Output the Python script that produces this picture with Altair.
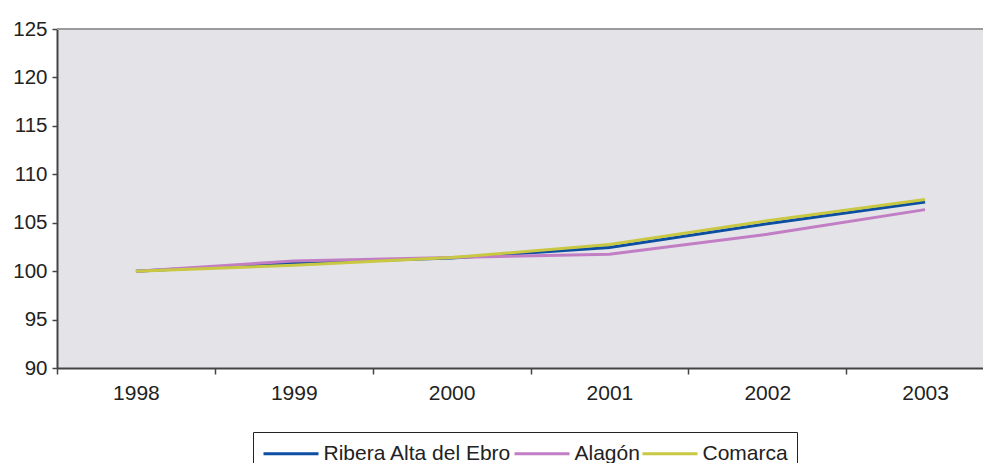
import altair as alt
import pandas as pd

years = ["1998", "1999", "2000", "2001", "2002", "2003"]
ribera = [100.0, 100.85, 101.35, 102.45, 104.9, 107.15]
alagon = [100.0, 101.05, 101.4, 101.75, 103.8, 106.35]
comarca = [100.0, 100.6, 101.4, 102.75, 105.2, 107.4]

series_names = ["Ribera Alta del Ebro", "Alagón", "Comarca"]
series_colors = ["#0B4EA2", "#C27EC4", "#C8C842"]

rows = []
for name, vals in zip(series_names, [ribera, alagon, comarca]):
    for y, v in zip(years, vals):
        rows.append({"year": y, "value": v, "serie": name})
df = pd.DataFrame(rows)

font = "Liberation Sans"
W = 926
H = 339

lines = alt.Chart(df).mark_line(strokeWidth=3).encode(
    x=alt.X("year:O", bandPosition=0.5,
            scale=alt.Scale(type="band", paddingInner=0, paddingOuter=0, range=[0, 947]),
            axis=alt.Axis(title=None, labelAngle=0, tickBand="extent", labelFontSize=21,
                          labelFont=font, labelColor="#222222", tickSize=6, labelPadding=8,
                          domainColor="#444444", domainWidth=2, tickColor="#444444",
                          tickWidth=1.5, grid=False)),
    y=alt.Y("value:Q",
            scale=alt.Scale(domain=[90, 125], nice=False, zero=False),
            axis=alt.Axis(title=None, values=[90, 95, 100, 105, 110, 115, 120, 125],
                          labelFontSize=20.5, labelFont=font, labelColor="#222222",
                          tickSize=5, labelPadding=5, domainColor="#444444", domainWidth=2,
                          tickColor="#444444", tickWidth=1.5, grid=False)),
    color=alt.Color("serie:N",
                    scale=alt.Scale(domain=series_names, range=series_colors),
                    sort=series_names,
                    legend=alt.Legend(title=None, orient="none", legendX=196, legendY=403,
                                      direction="horizontal", symbolType="M-2.5,0H2.5",
                                      symbolSize=484, symbolStrokeWidth=3, symbolOffset=16.5,
                                      labelFontSize=21, labelFont=font, labelColor="#222222",
                                      labelLimit=0, labelOffset=20, columnPadding=-4, padding=9,
                                      strokeColor="#222222")),
    order=alt.Order("serie_order:Q"),
).transform_calculate(
    serie_order="indexof(['Ribera Alta del Ebro','Alagón','Comarca'], datum.serie)"
)

top_border = alt.Chart(df).mark_rule(color="#9A9A9A", strokeWidth=2).encode(
    x=alt.value(0), x2=alt.value(W), y=alt.value(0)
)

chart = alt.layer(lines, top_border).properties(
    width=W, height=H,
    background="white",
    autosize=alt.AutoSizeParams(type="none"),
    padding={"left": 49, "top": 21, "right": 0, "bottom": 95},
).configure_view(
    fill="#E4E3E8", stroke=None
)

chart.save("out.html", embed_options={"renderer": "svg", "actions": False})
